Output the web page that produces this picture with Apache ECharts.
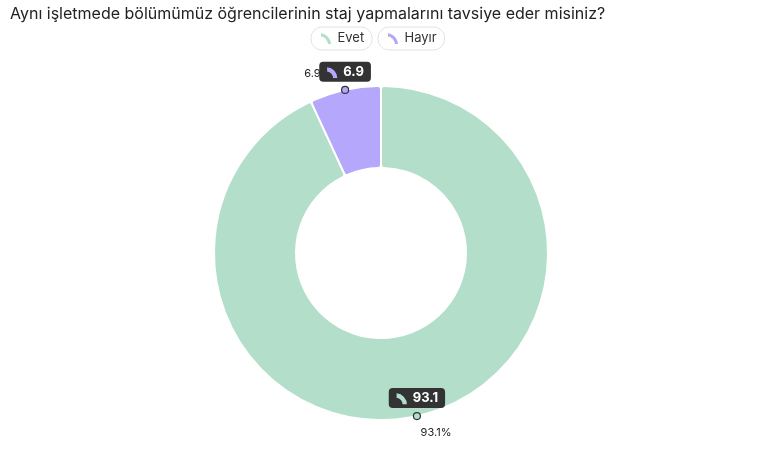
<!DOCTYPE html>
<html>
<head>
<meta charset="utf-8">
<script src="https://cdn.jsdelivr.net/npm/echarts@6/dist/echarts.min.js"></script>
<style>
  html, body { margin: 0; padding: 0; background: #fff; }
  #main { width: 758px; height: 449px; }
</style>
</head>
<body>
<div id="main"></div>
<script>
// data
var titleText = 'Aynı işletmede bölümümüz öğrencilerinin staj yapmalarını tavsiye eder misiniz?';
var categories = ['Evet', 'Hayır'];
var values = [93.1, 6.9];
var colors = ['#b3dfca', '#b4a7fc'];

var arcPath = 'path://M1 1 A13 13 0 0 1 13 14 L8 14 A8 8 0 0 0 1 6 Z';
function iconUri(c) {
  var svg = '<svg xmlns="http://www.w3.org/2000/svg" width="14" height="14" viewBox="0 0 14 14">' +
    '<path d="M1 1 A13 13 0 0 1 13 14 L8 14 A8 8 0 0 0 1 6 Z" fill="' + c + '"/></svg>';
  return 'data:image/svg+xml;charset=utf-8,' + encodeURIComponent(svg);
}

var chart = echarts.init(document.getElementById('main'));

var total = values.reduce(function (a, b) { return a + b; }, 0);
var acc = 0;
var anchors = values.map(function (v, i) {
  var mid = (acc + v / 2) / total * 100;
  acc += v;
  return { value: [1, mid], itemStyle: { color: colors[i] } };
});

var rich = {
  v: { color: '#fff', fontSize: 13, fontWeight: 'bold', fontFamily: 'Inter', padding: [0, 0, 0, 5] }
};
categories.forEach(function (c, i) {
  rich['i' + i] = { width: 12, height: 12, backgroundColor: { image: iconUri(colors[i]) } };
});

var center = [381, 253];
var outer = 167;

var option = {
  textStyle: { fontFamily: 'Inter' },
  title: {
    text: titleText,
    left: 5, top: 1,
    textStyle: { fontSize: 16, fontWeight: 'normal', color: '#222', fontFamily: 'Inter' }
  },
  legend: categories.map(function (c, i) {
    return {
      data: [c],
      left: i === 0 ? 311 : 378,
      top: 27,
      padding: [4, 8, 4, 8],
      borderColor: '#e2e2e2',
      borderWidth: 1,
      borderRadius: 11,
      icon: arcPath,
      itemWidth: 13,
      itemHeight: 13,
      textStyle: { fontSize: 13, color: '#333', fontFamily: 'Inter' }
    };
  }),
  polar: { center: center, radius: outer },
  angleAxis: { type: 'value', min: 0, max: 100, startAngle: 90, clockwise: true, show: false },
  radiusAxis: { type: 'value', min: 0, max: 1, show: false },
  series: [
    {
      type: 'pie',
      center: center,
      radius: [85, outer],
      startAngle: 90,
      data: categories.map(function (c, i) {
        return { name: c, value: values[i], itemStyle: { color: colors[i] } };
      }),
      itemStyle: { borderColor: '#fff', borderWidth: 2, borderRadius: 3 },
      label: {
        show: true,
        position: 'outside',
        formatter: '{c}%',
        fontSize: 11,
        color: '#222',
        fontFamily: 'Inter'
      },
      labelLine: { show: false, length: 17, length2: 0 },
      labelLayout: function () {
        return { dx: -5 };
      },
      emphasis: { disabled: true }
    },
    {
      type: 'scatter',
      coordinateSystem: 'polar',
      symbol: 'circle',
      symbolSize: 7,
      data: anchors,
      itemStyle: { borderColor: '#333', borderWidth: 1.2, opacity: 1 },
      label: {
        show: true,
        position: 'top',
        distance: 4,
        opacity: 1,
        formatter: function (p) {
          return '{i' + p.dataIndex + '|}{v|' + values[p.dataIndex] + '}';
        },
        backgroundColor: '#333',
        borderRadius: 4,
        padding: [4, 7, 3, 7],
        rich: rich
      },
      silent: true,
      z: 5,
      zlevel: 1
    }
  ]
};
chart.setOption(option);
</script>
</body>
</html>
